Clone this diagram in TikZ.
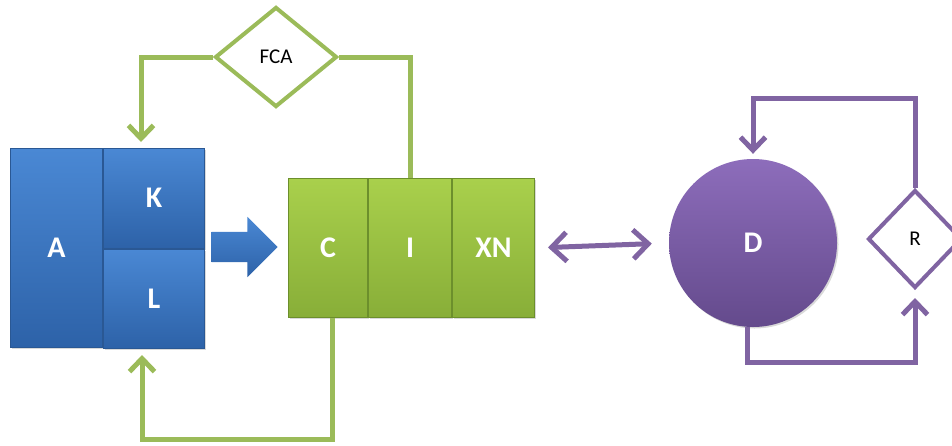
\documentclass[tikz,border=0pt]{standalone}
\usepackage{fontspec}
\setmainfont{Carlito}
\usetikzlibrary{shapes.geometric,shapes.arrows,arrows.meta,shadows}

\definecolor{blueTop}{HTML}{4A88D4}
\definecolor{blueBot}{HTML}{2D62A8}
\definecolor{blueEdge}{HTML}{2A5894}
\definecolor{greenTop}{HTML}{A9D04C}
\definecolor{greenBot}{HTML}{88AE38}
\definecolor{greenEdge}{HTML}{6C8F2C}
\definecolor{greenLine}{HTML}{9BBB59}
\definecolor{purpleTop}{HTML}{8D6DBB}
\definecolor{purpleBot}{HTML}{644A8C}
\definecolor{purpleLine}{HTML}{8064A2}

\begin{document}
\begin{tikzpicture}[x=1pt,y=-1pt,
    box/.style={rectangle,inner sep=0pt,line width=1pt,text=white,
        font=\fontsize{30}{32}\selectfont\bfseries,
        drop shadow={shadow xshift=1.5pt,shadow yshift=-1.5pt,opacity=0.3}},
    bluebox/.style={box,draw=blueEdge,top color=blueTop,bottom color=blueBot},
    greenbox/.style={box,draw=greenEdge,top color=greenTop,bottom color=greenBot},
    choice/.style={diamond,fill=white,line width=4pt,inner sep=0pt,
        font=\fontsize{21}{23}\selectfont},
    gline/.style={draw=greenLine,line width=5pt},
    pline/.style={draw=purpleLine,line width=5pt},
    tip/.style={-{Straight Barb[length=13pt,width=25pt,line width=5pt]}},
    bigtip/.style={{Straight Barb[length=15pt,width=29pt,line width=5pt]}-{Straight Barb[length=15pt,width=29pt,line width=5pt]}}]

    \useasboundingbox (0,0) rectangle (952,445);

    % ============================================
    % LEFT SIDE – BLUE BLOCK
    % ============================================

    \node[bluebox,anchor=north west,minimum width=92pt,minimum height=199pt] (A) at (10,148) {A};
    \node[bluebox,anchor=north west,minimum width=101pt,minimum height=99.5pt] (K) at (A.north east) {K};
    \node[bluebox,anchor=north west,minimum width=101pt,minimum height=99.5pt] (L) at (K.south west) {L};

    % Block arrow
    \node[single arrow,top color=blueTop,bottom color=blueBot,
          inner sep=0pt,inner ysep=15pt,minimum width=60pt,minimum height=66pt,
          single arrow head extend=15pt] (arr) at (237,247) {};

    % ============================================
    % MIDDLE – GREEN BLOCK
    % ============================================

    \node[greenbox,anchor=north west,minimum width=79pt,minimum height=139pt] (C) at (288,178) {C};
    \node[greenbox,anchor=north west,minimum width=83pt,minimum height=139pt] (I) at (C.north east) {I};
    \node[greenbox,anchor=north west,minimum width=82pt,minimum height=139pt] (XN) at (I.north east) {XN};

    % Feedback through FCA
    \node[choice,draw=greenLine,minimum width=122pt,minimum height=100pt] (FCA) at (276,57) {FCA};
    \draw[gline] (I.north) |- (FCA.east);
    \draw[gline,tip] (FCA.west) -| ([xshift=-13pt,yshift=6pt]K.north);

    % Return from C to L
    \draw[gline,tip] ([xshift=4pt]C.south) -- ++(0,121) -| ([xshift=-12pt,yshift=-6pt]L.south);

    % ============================================
    % RIGHT SIDE – D AND R
    % ============================================

    \node[circle,minimum size=168pt,inner sep=0pt,top color=purpleTop,bottom color=purpleBot,
          text=white,font=\fontsize{30}{32}\selectfont\bfseries,
          drop shadow={shadow xshift=1.5pt,shadow yshift=-1.5pt,opacity=0.3}] (D) at (753,243) {D};
    \node[choice,draw=purpleLine,minimum width=94pt,minimum height=98pt] (R) at (915,239) {R};

    % Link between XN and D
    \draw[pline,bigtip,shorten <=13pt,shorten >=17pt] (XN.east) -- (D.west);

    % Loop through R
    \draw[pline,tip] (R.north) -- ++(0,-90) -| ([yshift=5pt]D.north);
    \draw[pline,tip] ([xshift=-6pt]D.south) -- ++(0,35) -| ([yshift=-8pt]R.south);

\end{tikzpicture}
\end{document}
